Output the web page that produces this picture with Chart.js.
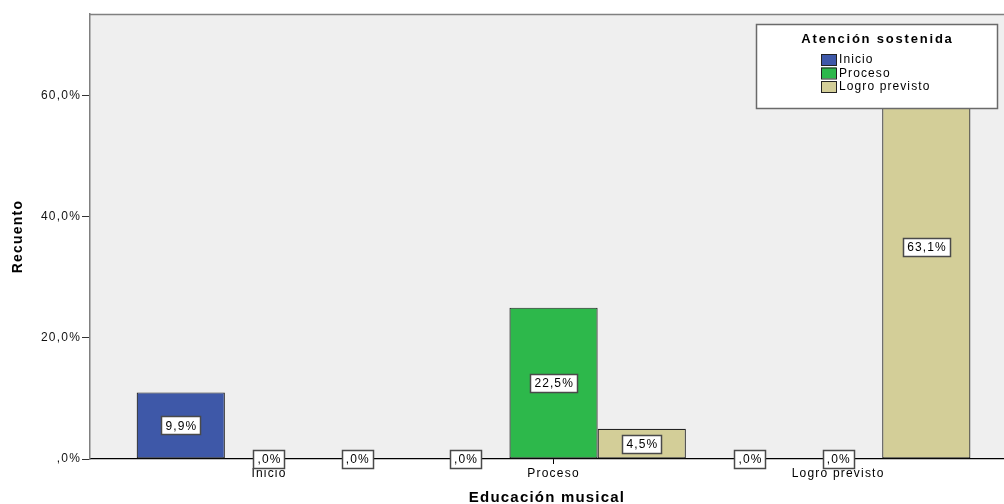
<!DOCTYPE html>
<html><head><meta charset="utf-8">
<script src="https://cdn.jsdelivr.net/npm/chart.js@4.4.0/dist/chart.umd.min.js"></script>
<style>html,body{margin:0;padding:0;background:#fff;overflow:hidden}#wrap{width:1004px;height:504px;position:relative}</style>
</head><body><div id="wrap"><canvas id="c" width="1004" height="504"></canvas></div>
<script>
const categories = ['Inicio', 'Proceso', 'Logro previsto'];
const seriesNames = ['Inicio', 'Proceso', 'Logro previsto'];
const countInicio = [11, 0, 0];
const countProceso = [0, 25, 0];
const countLogro = [0, 5, 70];
const pctInicio = [9.9, 0, 0];
const pctProceso = [0, 22.5, 0];
const pctLogro = [0, 4.5, 63.1];
const yTickValues = [0, 20, 40, 60];
const legendTitle = 'Atención sostenida';
const xTitle = 'Educación musical';
const yTitle = 'Recuento';
const seriesColors = ['#3E58A8', '#2DB84B', '#D3CE98'];

const FONT = '"Liberation Sans", Arial, sans-serif';
function fmtPct(v) {
  if (v === 0) return ',0%';
  return v.toFixed(1).replace('.', ',') + '%';
}
const counts = [countInicio, countProceso, countLogro];
const pcts = [pctInicio, pctProceso, pctLogro];

const framePlugin = {
  id: 'frame',
  beforeDraw(chart) {
    const ctx = chart.ctx, a = chart.chartArea;
    ctx.letterSpacing = '1.2px';
    ctx.save();
    ctx.fillStyle = '#EFEFEF';
    ctx.fillRect(a.left, a.top, a.right - a.left, a.bottom - a.top);
    ctx.strokeStyle = '#808080';
    ctx.lineWidth = 1.5;
    ctx.beginPath();
    ctx.moveTo(a.left, a.top + 0.5);
    ctx.lineTo(a.right, a.top + 0.5);
    ctx.stroke();
    ctx.restore();
  },
  afterDatasetsDraw(chart) {
    const ctx = chart.ctx;
    ctx.save();
    ctx.font = '12px ' + FONT;
    ctx.letterSpacing = '1.1px';
    ctx.textAlign = 'center';
    ctx.textBaseline = 'middle';
    pcts.forEach((arr, i) => {
      const meta = chart.getDatasetMeta(i);
      meta.data.forEach((el, j) => {
        const txt = fmtPct(arr[j]);
        const cx = el.x;
        const cy = (el.y + el.base) / 2;
        const w = Math.round(ctx.measureText(txt).width + 7);
        const h = 18;
        const bx = Math.round(cx - w / 2) + 0.5, by = Math.round(cy - h / 2) + 0.5;
        ctx.fillStyle = '#fff';
        ctx.fillRect(bx, by, w, h);
        ctx.strokeStyle = '#4a4a4a';
        ctx.lineWidth = 1.5;
        ctx.strokeRect(bx, by, w, h);
        ctx.fillStyle = '#000';
        ctx.fillText(txt, cx + 0.6, cy + 1);
      });
    });
    const lx = 756, ly = 24, lw = 241, lh = 84;
    ctx.fillStyle = '#fff';
    ctx.fillRect(lx, ly, lw, lh);
    ctx.strokeStyle = '#6a6a6a';
    ctx.lineWidth = 1.5;
    ctx.strokeRect(lx + 0.5, ly + 0.5, lw, lh);
    ctx.fillStyle = '#000';
    ctx.font = 'bold 13px ' + FONT;
    ctx.letterSpacing = '1.8px';
    ctx.textAlign = 'center';
    ctx.fillText(legendTitle, lx + lw / 2 + 1, ly + 15);
    ctx.font = '12px ' + FONT;
    ctx.letterSpacing = '1.1px';
    ctx.textAlign = 'left';
    seriesNames.forEach((name, i) => {
      const yc = ly + 35 + i * 13.5;
      ctx.fillStyle = seriesColors[i];
      ctx.fillRect(821, yc - 5, 15, 11);
      ctx.strokeStyle = '#222';
      ctx.lineWidth = 1;
      ctx.strokeRect(821.5, yc - 4.5, 15, 11);
      ctx.fillStyle = '#000';
      ctx.fillText(name, 839, yc + 1);
    });
    ctx.restore();
  }
};

const datasets = seriesNames.map((name, i) => ({
  label: name,
  data: counts[i].map((v, j) => ({ x: j, y: v })),
  backgroundColor: seriesColors[i],
  borderColor: '#222',
  borderWidth: 1.2,
  borderSkipped: false,
  categoryPercentage: 0.93,
  barPercentage: 1
}));

new Chart(document.getElementById('c'), {
  type: 'bar',
  data: { datasets },
  plugins: [framePlugin],
  options: {
    responsive: false,
    animation: false,
    devicePixelRatio: 1,
    layout: { padding: { top: 14, right: 0, left: 0, bottom: 0 } },
    plugins: { legend: { display: false }, tooltip: { enabled: false } },
    scales: {
      x: {
        type: 'linear',
        offset: false,
        min: -0.629,
        max: 2.583,
        afterBuildTicks(s) { s.ticks = categories.map((_, i) => ({ value: i })); },
        afterFit(s) { s.height = 45; },
        ticks: {
          autoSkip: false, maxRotation: 0, padding: 2,
          color: '#000',
          font: { family: FONT, size: 12 },
          callback(v, idx) { return categories[idx]; }
        },
        grid: { offset: false, drawOnChartArea: false, tickLength: 5, color: '#000', lineWidth: 1 },
        border: { color: '#000', width: 1.2 },
        title: {
          display: true, text: xTitle, color: '#000',
          font: { family: FONT, size: 15, weight: 'bold', lineHeight: 1 },
          padding: { top: 0, bottom: -1 }
        }
      },
      y: {
        min: 0,
        max: 73.5,
        afterBuildTicks(s) { s.ticks = yTickValues.map(v => ({ value: v })); },
        afterFit(s) { s.width = 90; },
        ticks: {
          padding: 1, color: '#111',
          font: { family: FONT, size: 12 },
          callback(v) { return fmtPct(v); }
        },
        grid: { drawOnChartArea: false, tickLength: 8, color: '#333', lineWidth: 1 },
        border: { color: '#808080', width: 1.5 },
        title: {
          display: true, text: yTitle, color: '#000',
          font: { family: FONT, size: 14, weight: 'bold', lineHeight: 1.2 },
          padding: { top: 10, bottom: 0 }
        }
      }
    }
  }
});
</script>
</body></html>
